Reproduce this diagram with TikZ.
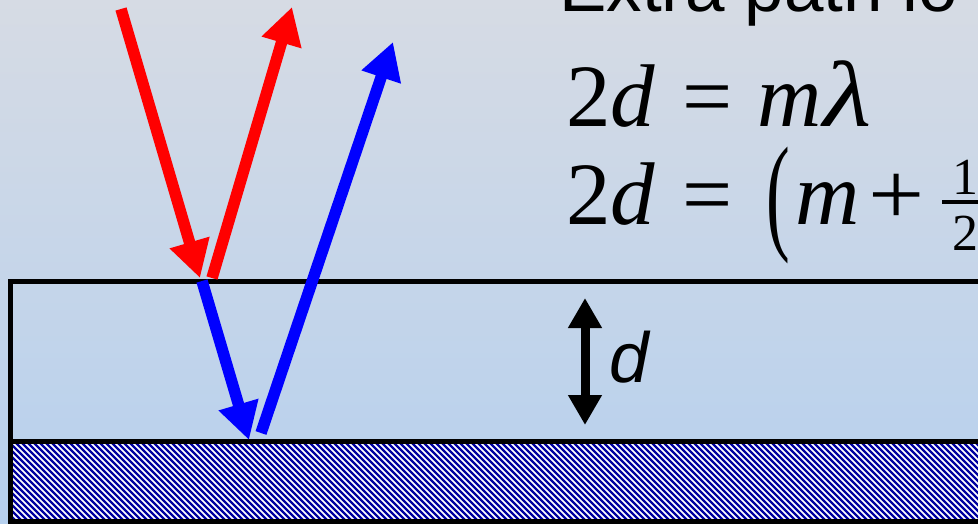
\documentclass[tikz,border=0pt]{standalone}
\usepackage{fontspec}
\setmainfont{Liberation Serif}
\newfontfamily\sansfnt{Liberation Sans}
\newfontfamily\eqfnt{Liberation Serif}
\usepackage{graphicx}
\usepackage{tikz}
\usetikzlibrary{arrows.meta}
\definecolor{skytop}{RGB}{214,219,228}
\definecolor{skybot}{RGB}{182,208,238}
\definecolor{navyx}{RGB}{0,0,160}
\definecolor{redx}{RGB}{255,0,0}
\definecolor{bluex}{RGB}{0,0,255}
\tikzset{
  ray/.style={-{Triangle[length=37pt,width=39pt]},line width=11.5pt},
  dimar/.style={{Triangle[length=30pt,width=32pt]}-{Triangle[length=30pt,width=32pt]},line width=9pt,black},
  layer/.style={draw=black,line width=5pt},
  hatch/.style={navyx,line width=2.3pt},
  lbl/.style={inner sep=0pt,anchor=base west}
}
\begin{document}
\begin{tikzpicture}[x=1pt,y=-1pt]
\useasboundingbox (0,0) rectangle (978,524);
\clip (0,0) rectangle (978,524);
\shade[top color=skytop,bottom color=skybot] (0,0) rectangle (978,524);
% substrate
\fill[white] (10,441) rectangle (1000,521);
\begin{scope}
\clip (10,441) rectangle (1000,521);
\foreach \k in {-100,-94,...,1000} \draw[hatch] (\k,441) -- ++(90,90);
\end{scope}
\draw[layer] (10,441) rectangle (1000,521);
% film
\draw[layer] (10,281) rectangle (1000,441);
% text
\node[lbl,font=\sansfnt\fontsize{71}{80}\selectfont] (title) at (559,12) {Extra path lo};
\node[lbl,font=\eqfnt\fontsize{89}{100}\selectfont] (eqA) at (566,127)
  {2\textit{d}\hspace{0.3em}=\hspace{0.28em}\textit{m}\hspace{0.02em}\scalebox{1.25}[1.05]{\textit{λ}}};
\node[lbl,font=\eqfnt\fontsize{89}{100}\selectfont] (eqB) at (566,225)
  {2\textit{d}\hspace{0.3em}=\hspace{0.38em}\raisebox{-12pt}{\scalebox{0.8}[1.45]{(}}\hspace{0.06em}\textit{m}\hspace{0.1em}\scalebox{1.12}[1]{+}\hspace{0.2em}%
   {\fontsize{52}{52}\selectfont\makebox[0pt][l]{\raisebox{30pt}{\makebox[46pt]{1}}}\makebox[0pt][l]{\raisebox{-25pt}{\makebox[46pt]{2}}}\raisebox{21pt}{\rule{46pt}{4pt}}}};
\node[lbl,font=\sansfnt\itshape\fontsize{71}{80}\selectfont] (dlbl) at (609,382) {d};
% thickness marker
\coordinate (dTop) at (585,298);
\coordinate (dBot) at (585,425);
\draw[dimar] (dTop) -- (dBot);
% rays
\coordinate (redIn) at (121,9);
\coordinate (redHit) at (200,278);
\coordinate (redOut) at (212,278);
\coordinate (redEnd) at (292,7);
\coordinate (blueIn) at (202,281);
\coordinate (blueHit) at (249,440);
\coordinate (blueOut) at (261,433);
\coordinate (blueEnd) at (393,42);
\draw[ray,redx] (redIn) -- (redHit);
\draw[ray,redx] (redOut) -- (redEnd);
\draw[ray,bluex] (blueIn) -- (blueHit);
\draw[ray,bluex] (blueOut) -- (blueEnd);
\end{tikzpicture}
\end{document}
